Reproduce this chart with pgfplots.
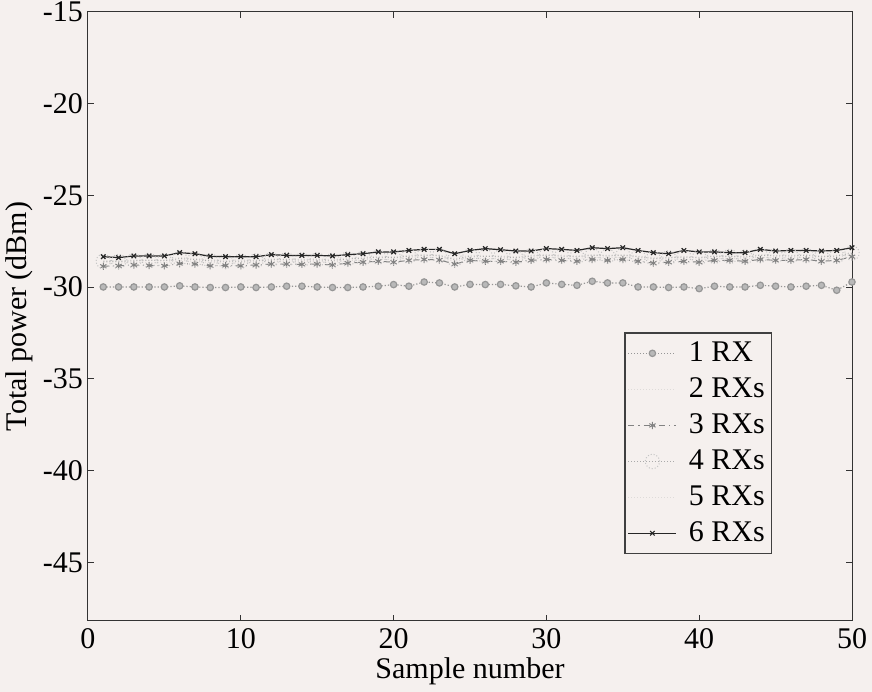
\documentclass[border=0pt]{standalone}
\usepackage{pgfplots}
\pgfplotsset{compat=1.18}
\usepackage{fontspec}
\setmainfont{Liberation Serif}
\definecolor{bgc}{RGB}{245,240,238}
\definecolor{c1}{RGB}{150,150,150}
\definecolor{c1f}{RGB}{185,185,185}
\definecolor{c3}{RGB}{130,130,130}
\definecolor{c4}{RGB}{170,170,170}
\definecolor{c25}{RGB}{222,219,217}
\pagecolor{bgc}
\pgfplotstableread{
x r1 r2 r3 r4 r5 r6
1 -29.99 -28.66 -28.86 -28.59 -28.54 -28.34
2 -29.99 -28.68 -28.84 -28.60 -28.56 -28.39
3 -29.99 -28.64 -28.79 -28.56 -28.52 -28.30
4 -29.99 -28.66 -28.82 -28.54 -28.51 -28.30
5 -29.99 -28.67 -28.84 -28.56 -28.52 -28.30
6 -29.93 -28.54 -28.72 -28.44 -28.39 -28.12
7 -29.99 -28.59 -28.74 -28.49 -28.44 -28.18
8 -30.02 -28.66 -28.84 -28.56 -28.51 -28.32
9 -30.02 -28.68 -28.82 -28.59 -28.54 -28.34
10 -29.99 -28.67 -28.84 -28.58 -28.52 -28.34
11 -30.02 -28.64 -28.79 -28.56 -28.51 -28.34
12 -29.99 -28.60 -28.74 -28.50 -28.46 -28.23
13 -29.95 -28.60 -28.74 -28.50 -28.46 -28.27
14 -29.95 -28.62 -28.76 -28.52 -28.47 -28.27
15 -29.99 -28.60 -28.74 -28.51 -28.46 -28.27
16 -30.02 -28.64 -28.79 -28.54 -28.49 -28.30
17 -30.02 -28.56 -28.69 -28.46 -28.42 -28.23
18 -29.99 -28.52 -28.64 -28.42 -28.37 -28.18
19 -29.95 -28.46 -28.59 -28.36 -28.32 -28.08
20 -29.86 -28.49 -28.64 -28.39 -28.34 -28.08
21 -29.95 -28.40 -28.54 -28.31 -28.26 -28.00
22 -29.72 -28.36 -28.49 -28.26 -28.22 -27.94
23 -29.77 -28.38 -28.52 -28.28 -28.24 -27.94
24 -29.99 -28.59 -28.74 -28.49 -28.44 -28.18
25 -29.85 -28.40 -28.54 -28.30 -28.26 -28.00
26 -29.86 -28.44 -28.59 -28.32 -28.28 -27.90
27 -29.85 -28.44 -28.59 -28.34 -28.30 -27.96
28 -29.93 -28.49 -28.64 -28.39 -28.34 -28.03
29 -29.99 -28.40 -28.54 -28.30 -28.26 -28.03
30 -29.77 -28.36 -28.49 -28.26 -28.22 -27.90
31 -29.85 -28.40 -28.54 -28.30 -28.26 -27.94
32 -29.90 -28.44 -28.59 -28.34 -28.30 -28.00
33 -29.68 -28.36 -28.49 -28.26 -28.22 -27.85
34 -29.77 -28.40 -28.54 -28.30 -28.26 -27.90
35 -29.77 -28.36 -28.49 -28.26 -28.22 -27.85
36 -29.99 -28.44 -28.59 -28.34 -28.30 -28.00
37 -29.99 -28.54 -28.69 -28.44 -28.39 -28.12
38 -30.02 -28.50 -28.64 -28.40 -28.36 -28.18
39 -29.99 -28.46 -28.59 -28.36 -28.32 -28.00
40 -30.08 -28.50 -28.64 -28.40 -28.36 -28.08
41 -29.95 -28.42 -28.54 -28.32 -28.28 -28.08
42 -29.99 -28.42 -28.54 -28.32 -28.28 -28.12
43 -29.99 -28.46 -28.59 -28.36 -28.32 -28.12
44 -29.90 -28.36 -28.49 -28.26 -28.22 -27.94
45 -29.95 -28.40 -28.54 -28.30 -28.26 -28.03
46 -29.99 -28.40 -28.54 -28.30 -28.26 -28.00
47 -29.95 -28.36 -28.49 -28.26 -28.22 -28.00
48 -29.90 -28.44 -28.59 -28.34 -28.30 -28.03
49 -30.17 -28.40 -28.54 -28.30 -28.26 -28.00
50 -29.72 -28.22 -28.34 -28.14 -28.10 -27.85
}\datatable
\begin{document}
\begin{tikzpicture}[x=1pt,y=1pt]
\begin{axis}[
  scale only axis,
  width=382pt, height=304.5pt,
  xmin=0, xmax=50, ymin=-48.2, ymax=-15,
  xtick={0,10,...,50},
  ytick={-45,-40,...,-15},
  tick align=inside,
  major tick length=2.8pt,
  axis line style={black!80, line width=0.5pt},
  every tick/.style={black!80, line width=0.5pt},
  /pgf/number format/assume math mode=true,
  ticklabel style={font=\fontsize{15}{17}\selectfont},
  yticklabel style={xshift=1pt},
  label style={font=\fontsize{15}{17}\selectfont},
  xlabel={Sample number},
  ylabel={Total power (dBm)},
  xlabel style={yshift=2pt},
  ylabel style={yshift=-2pt},
  legend style={at={(0.702,0.474)}, anchor=north west, draw=black!75,
    line width=0.6pt, fill=bgc,
    font=\fontsize{15}{17}\selectfont, row sep=2.6pt,
    inner xsep=1.5pt, inner ysep=2.5pt,
    /tikz/every odd column/.append style={column sep=4pt}},
  legend cell align=left,
  legend image post style={line width=0.5pt},
  legend image code/.code={\draw[mark repeat=2,mark phase=2,#1] plot coordinates {(2pt,0pt) (14pt,0pt) (26pt,0pt)};},
]
\addplot[c1, densely dotted, line width=0.6pt, mark=*, mark size=1.6pt,
  mark options={solid, fill=c1f, draw=c1, line width=0.6pt}] table[x=x,y=r1] {\datatable};
\addlegendentry{1 RX}
\addplot[c25, densely dotted, line width=0.5pt] table[x=x,y=r2] {\datatable};
\addlegendentry{2 RXs}
\addplot[c3, dash dot, line width=0.5pt, mark=asterisk, mark size=1.8pt,
  mark options={solid}] table[x=x,y=r3] {\datatable};
\addlegendentry{3 RXs}
\addplot[c4, densely dotted, line width=0.5pt, mark=o, mark size=3.6pt,
  mark options={densely dotted, draw=c4!70}] table[x=x,y=r4] {\datatable};
\addlegendentry{4 RXs}
\addplot[c25, densely dotted, line width=0.5pt] table[x=x,y=r5] {\datatable};
\addlegendentry{5 RXs}
\addplot[black!85, solid, line width=0.6pt, mark=x, mark size=1.6pt,
  mark options={solid}] table[x=x,y=r6] {\datatable};
\addlegendentry{6 RXs}
\end{axis}
\pgfresetboundingbox
\path ([xshift=-44pt,yshift=-35.5pt]current axis.south west) rectangle ([xshift=10pt,yshift=6pt]current axis.north east);
\end{tikzpicture}
\end{document}
